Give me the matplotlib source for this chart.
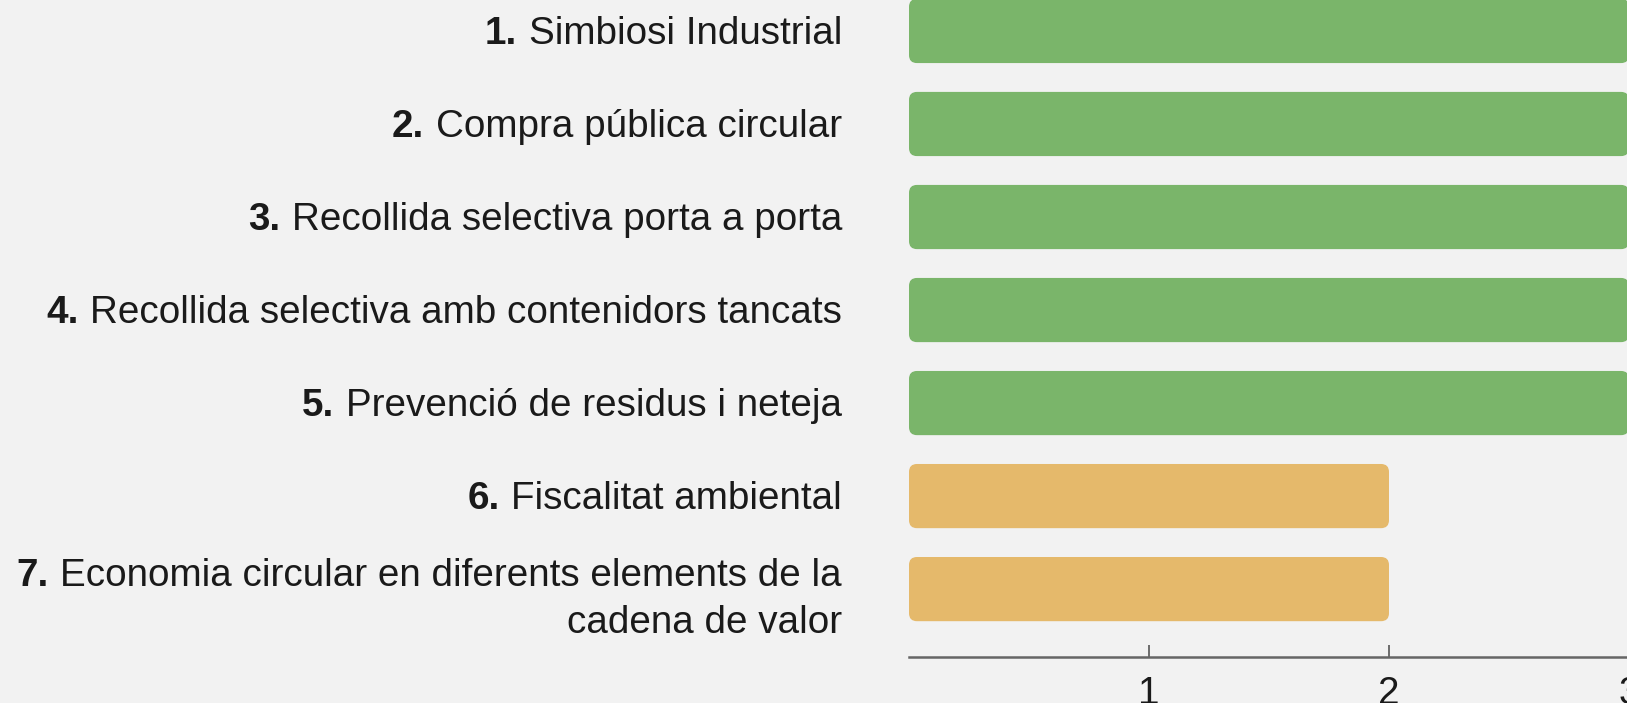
import matplotlib
matplotlib.use("Agg")
import matplotlib.pyplot as plt
from matplotlib.patches import FancyBboxPatch
from matplotlib.transforms import blended_transform_factory, offset_copy

plt.rcParams['font.family'] = ['Liberation Sans', 'DejaVu Sans']

numbers = ["1.", "2.", "3.", "4.", "5.", "6.", "7."]
categories = [
    "Simbiosi Industrial",
    "Compra pública circular",
    "Recollida selectiva porta a porta",
    "Recollida selectiva amb contenidors tancats",
    "Prevenció de residus i neteja",
    "Fiscalitat ambiental",
    "Economia circular en diferents elements de la\ncadena de valor",
]
values = [3, 3, 3, 3, 3, 2, 2]
bar_colors = ["#7ab56a"] * 5 + ["#e5b96b"] * 2
xticks = [1, 2, 3]

BG = "#f2f2f2"
TXT = "#1a1a1a"
FS = 27.8
W, H = 1627, 703
fig = plt.figure(figsize=(W / 100, H / 100), dpi=100, facecolor=BG)
left_px, right_px = 909, 1629
top_px, bottom_px = 0, 657
ax = fig.add_axes([left_px / W, (H - bottom_px) / H,
                   (right_px - left_px) / W, (bottom_px - top_px) / H])
ax.set_facecolor(BG)

ypos = list(range(len(categories)))
bars = ax.barh(ypos, values, height=0.69, color=bar_colors)
ax.set_xlim(0, 3)
ax.set_ylim(6.73, -0.333)

# replace bars by rounded versions using the same geometry
for b, c in zip(bars, bar_colors):
    x0, y0 = b.get_x(), b.get_y()
    w, h = b.get_width(), b.get_height()
    b.set_visible(False)
    p = FancyBboxPatch((x0, y0), w, h,
                       boxstyle="round,pad=0,rounding_size=0.033",
                       mutation_aspect=2.6, facecolor=c, edgecolor='none')
    ax.add_patch(p)

# category labels: bold number + regular text, right aligned
ax.set_yticks(ypos)
ax.set_yticklabels([])
ax.tick_params(axis='y', length=0)
base = blended_transform_factory(ax.transAxes, ax.transData)
trans = offset_copy(base, fig=fig, x=-67, y=-3, units='dots')
line_step = 0.513  # in category units
for yp, n, c in zip(ypos, numbers, categories):
    lines = c.split("\n")
    k = len(lines)
    shift = 0.08 if k > 1 else 0.0
    first = None
    for i, ln in enumerate(lines):
        yy = yp + shift + (i - (k - 1) / 2) * line_step
        t = ax.text(0, yy, ln, transform=trans, ha='right', va='center',
                    fontsize=FS, color=TXT)
        if first is None:
            first = t
    ax.annotate(n, xy=(0, 0), xycoords=first, xytext=(-8.5, 0),
                textcoords='offset points', ha='right', va='bottom',
                fontsize=FS, fontweight='bold', color=TXT)

ax.set_xticks(xticks)
ax.set_xticklabels([str(t) for t in xticks], fontsize=FS, color=TXT)
ax.tick_params(axis='x', direction='in', length=9, width=1.2, color="#555555", pad=14)

for s in ['top', 'right', 'left']:
    ax.spines[s].set_visible(False)
ax.spines['bottom'].set_color("#666666")
ax.spines['bottom'].set_linewidth(1.8)

fig.savefig("out.png", dpi=100, facecolor=BG)
